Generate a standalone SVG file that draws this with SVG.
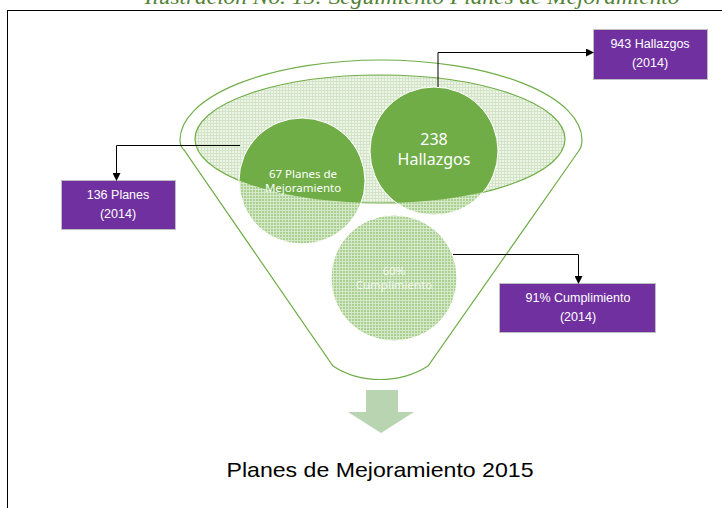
<svg xmlns="http://www.w3.org/2000/svg" width="722" height="508" viewBox="0 0 722 508">
<style>
.box{fill:#7030a0;stroke:#bfbfbf;stroke-width:1}
.btxt{font-family:"Liberation Sans",Arial,sans-serif;font-size:12.5px;fill:#ffffff;text-anchor:middle}
.ctxt{font-family:"Noto Sans","Liberation Sans",sans-serif;fill:#ffffff;text-anchor:middle}
.conn{fill:none;stroke:#000000;stroke-width:1}
.funnel{fill:none;stroke:#70ad47;stroke-width:1.2}
</style>
<defs>
<pattern id="gridLight" width="3" height="3" patternUnits="userSpaceOnUse">
<rect width="3" height="3" fill="#eef5e8"/>
<path d="M0 0.5H3M0.5 0V3" stroke="#d2e4c6" stroke-width="1"/>
</pattern>
<pattern id="gridGreen" width="3" height="3" patternUnits="userSpaceOnUse">
<rect width="3" height="3" fill="#a9d08e"/>
<path d="M0 0.5H3M0.5 0V3" stroke="#d6e8ca" stroke-width="1"/>
</pattern>
<clipPath id="innerClip"><ellipse cx="380" cy="139" rx="185" ry="64"/></clipPath>
<marker id="arr" markerWidth="8" markerHeight="8" refX="7" refY="4" orient="auto" markerUnits="userSpaceOnUse">
<path d="M0,0 L8,4 L0,8 Z" fill="#000000"/>
</marker>
</defs>
<rect x="0" y="0" width="722" height="508" fill="#ffffff"/>
<text x="412" y="4" font-family="Liberation Serif,serif" font-style="italic" font-size="22" fill="#538135" text-anchor="middle" textLength="535" lengthAdjust="spacingAndGlyphs">Ilustración No.  15: Seguimiento Planes de Mejoramiento</text>
<rect x="7.5" y="10.5" width="720" height="510" fill="none" stroke="#000000" stroke-width="1"/>

<g id="funnel">
<path class="funnel" d="M184,150 Q180,146 180,140 A201 80 0 0 1 582,140 Q582,147 578,152 L428,366 C400,384 360,384 333,366 Z"/>
<ellipse cx="380" cy="139" rx="185" ry="64" fill="url(#gridLight)" stroke="#70ad47" stroke-width="1.2"/>
</g>

<g id="node-hallazgos">
<circle cx="434" cy="151" r="64" fill="url(#gridGreen)" stroke="#ffffff" stroke-width="1"/>
<circle cx="434" cy="151" r="64" fill="#70ad47" stroke="#ffffff" stroke-width="1" clip-path="url(#innerClip)"/>
<text class="ctxt" x="434" y="145" font-size="16">238</text>
<text class="ctxt" x="434" y="165" font-size="16">Hallazgos</text>
</g>

<g id="node-planes">
<circle cx="302" cy="181" r="63" fill="url(#gridGreen)" stroke="#ffffff" stroke-width="1"/>
<circle cx="302" cy="181" r="63" fill="#70ad47" stroke="#ffffff" stroke-width="1" clip-path="url(#innerClip)"/>
<text class="ctxt" x="303" y="178" font-size="11.5">67 Planes de</text>
<text class="ctxt" x="303" y="192" font-size="11.5">Mejoramiento</text>
</g>

<g id="node-cumplimiento">
<circle cx="394" cy="278" r="63" fill="url(#gridGreen)" stroke="#ffffff" stroke-width="1"/>
<text class="ctxt" x="394" y="275" font-size="11.5" fill-opacity="0.8">60%</text>
<text class="ctxt" x="394" y="289" font-size="11.5" fill-opacity="0.8">Cumplimiento</text>
</g>

<g id="box-943">
<rect class="box" x="593.5" y="29.5" width="114" height="50"/>
<text class="btxt" x="650" y="48">943 Hallazgos</text>
<text class="btxt" x="650" y="67">(2014)</text>
</g>

<g id="box-136">
<rect class="box" x="61.5" y="180.5" width="114" height="49"/>
<text class="btxt" x="118" y="199">136 Planes</text>
<text class="btxt" x="118" y="218">(2014)</text>
</g>

<g id="box-91">
<rect class="box" x="499.5" y="283.5" width="156" height="49"/>
<text class="btxt" x="578" y="302">91%  Cumplimiento</text>
<text class="btxt" x="578" y="321">(2014)</text>
</g>

<g id="connectors">
<path class="conn" d="M438,87 V52.5 H593" marker-end="url(#arr)"/>
<path class="conn" d="M240,145.5 H116.5 V180" marker-end="url(#arr)"/>
<path class="conn" d="M453,254.5 H578.5 V283" marker-end="url(#arr)"/>
</g>

<g id="down-arrow">
<path d="M366,390 H398 V412 H414 L381,433 L348,412 H366 Z" fill="#b9d4b0"/>
</g>

<text x="380" y="477" font-family="Liberation Sans,Arial,sans-serif" font-size="21" fill="#000000" text-anchor="middle" textLength="307" lengthAdjust="spacingAndGlyphs">Planes de Mejoramiento  2015</text>
</svg>
